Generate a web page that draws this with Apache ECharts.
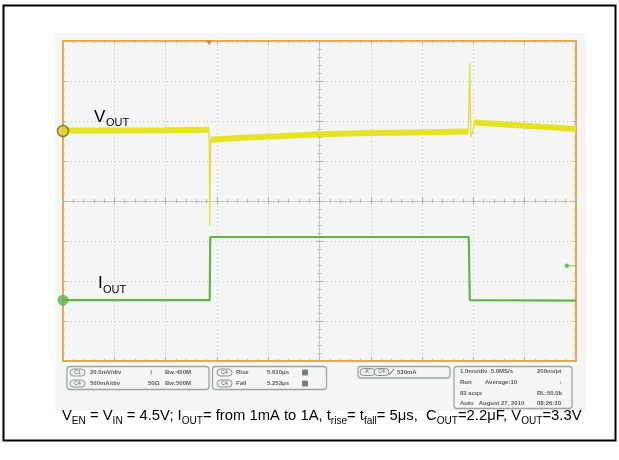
<!DOCTYPE html>
<html><head><meta charset="utf-8">
<script src="https://cdn.jsdelivr.net/npm/echarts@6/dist/echarts.min.js"></script>
<style>html,body{margin:0;padding:0;background:#fff}#c{width:619px;height:460px}</style>
</head><body><div id="c"></div>
<script>
// x: horizontal divisions (-5..5, 1.0ms/div), y: vertical divisions (-4..4)
const voutBefore = [[-5, 1.76], [-4, 1.76], [-3, 1.77], [-2.15, 1.78]];
const voutAfterStep = [[-2.12, 1.53], [-1.5, 1.58], [-0.8, 1.62], [0, 1.67], [1, 1.70], [2, 1.72], [2.9, 1.74]];
const voutAfterRecovery = [[3.02, 1.96], [4, 1.88], [5, 1.80]];
const voutSpikeDown = [[-2.15, 1.76], [-2.14, -0.62], [-2.12, 1.53]];
const voutSpikeUp = [[2.9, 1.74], [2.93, 3.45], [2.95, 1.6], [2.99, 1.75], [3.02, 1.96]];
const iout = [[-5, -2.48], [-2.14, -2.48], [-2.13, -0.9], [2.91, -0.9], [2.93, -2.48], [5, -2.49]];
const voutRef = [[-5, 1.75]];
const ioutRef = [[-5, -2.48]];
const trigLevel = [[4.82, -1.62], [5, -1.62]];
const trigPos = [[-2.15, 4]];

const statusRows1 = ['20.0mV/div', '500mA/div'];
const statusBw = ['Bw:400M', 'Bw:500M'];
const statusMeas = [['Rise', '5.610\u03bcs'], ['Fall', '5.253\u03bcs']];
const timebase = [['1.0ms/div  5.0MS/s', '200ns/pt'], ['Run        Average:10', ''], ['83 acqs', 'RL:50.0k'], ['Auto   August 27, 2010', '08:26:30']];
const caption = [['V', 0], ['EN', 1], [' = V', 0], ['IN', 1], [' = 4.5V; I', 0], ['OUT', 1], ['= from 1mA to 1A, t', 0], ['rise', 1], ['= t', 0], ['fall', 1], ['= 5\u03bcs,  C', 0], ['OUT', 1], ['=2.2\u03bcF, V', 0], ['OUT', 1], ['=3.3V', 0]];

const chart = echarts.init(document.getElementById('c'), null, {renderer: 'canvas'});
const gridC = '#b9bdbd';
function xa(pos, inside, onZero, split) {
  return {type: 'value', min: -5, max: 5, interval: 1, position: pos,
    axisLine: {show: onZero, onZero: onZero, onZeroAxisIndex: 0, lineStyle: {color: gridC, type: [1, 2], width: 1}},
    axisTick: {show: true, inside: inside, length: 3, lineStyle: {color: '#a9adad'}},
    minorTick: {show: true, splitNumber: 5, length: 2, lineStyle: {color: '#b3b6b6'}},
    axisLabel: {show: false},
    splitLine: {show: split, lineStyle: {color: gridC, type: [1, 3]}}};
}
function ya(pos, inside, onZero, split) {
  return {type: 'value', min: -4, max: 4, interval: 1, position: pos,
    axisLine: {show: onZero, onZero: onZero, onZeroAxisIndex: 0, lineStyle: {color: gridC, type: [1, 2], width: 1}},
    axisTick: {show: true, inside: inside, length: 3, lineStyle: {color: '#a9adad'}},
    minorTick: {show: true, splitNumber: 5, length: 2, lineStyle: {color: '#b3b6b6'}},
    axisLabel: {show: false},
    splitLine: {show: split, lineStyle: {color: gridC, type: [1, 3]}}};
}

const txtC = '#5a5a5a';
const FF = '"Liberation Sans", Arial, sans-serif';
const g = [];
g.push({type: 'rect', z: -10, shape: {x: 55, y: 33, width: 531, height: 378}, style: {fill: '#f4f6f6'}});
g.push({type: 'rect', z: 100, shape: {x: 3.5, y: 5.5, width: 612, height: 435}, style: {fill: 'none', stroke: '#000', lineWidth: 2}});
g.push({type: 'text', z: 50, left: 94, top: 109, style: {text: 'V', fontSize: 17, fontFamily: FF, fill: '#000'}});
g.push({type: 'text', z: 50, left: 106, top: 117.5, style: {text: 'OUT', fontSize: 11, fontFamily: FF, fill: '#000'}});
g.push({type: 'text', z: 50, left: 98, top: 274.5, style: {text: 'I', fontSize: 17, fontFamily: FF, fill: '#000'}});
g.push({type: 'text', z: 50, left: 103, top: 284, style: {text: 'OUT', fontSize: 11, fontFamily: FF, fill: '#000'}});

function box(x, y, w, h) {
  g.push({type: 'rect', shape: {x: x, y: y, width: w, height: h, r: 3}, style: {fill: '#f4f6f6', stroke: '#9ea2a2', lineWidth: 1.3}});
}
function pill(x, y, label) {
  g.push({type: 'rect', shape: {x: x, y: y - 3.5, width: 15, height: 7, r: 3.5}, style: {fill: '#eef0f0', stroke: '#8d9191', lineWidth: 1}});
  g.push({type: 'text', x: x + 7.5, y: y, style: {text: label, fontSize: 5, fill: txtC, align: 'center', verticalAlign: 'middle', fontFamily: FF}});
}
function st(x, y, s, bold) {
  g.push({type: 'text', x: x, y: y, style: {text: s, fontSize: 6, fontWeight: bold ? 'bold' : 'normal', fill: txtC, verticalAlign: 'middle', fontFamily: FF}});
}
box(67, 366.5, 142, 23);
box(212.5, 366.5, 114, 23);
box(358, 366.5, 92, 11.5);
box(454, 366.5, 118, 42);
const rowsY = [372.5, 383.5];
['C1', 'C4'].forEach((c, i) => { pill(70, rowsY[i], c); st(90, rowsY[i], statusRows1[i], true); st(165, rowsY[i], statusBw[i], true); });
st(150, rowsY[0], '\u2240', true); st(148, rowsY[1], '50\u03a9', true);
statusMeas.forEach((m, i) => {
  pill(217, rowsY[i], 'C4'); st(236, rowsY[i], m[0], true); st(267, rowsY[i], m[1], true);
  g.push({type: 'rect', shape: {x: 302, y: rowsY[i] - 3, width: 6, height: 6, r: 1}, style: {fill: '#7a7e7e'}});
});
pill(360, 372, "A'"); pill(374, 372, 'C4');
g.push({type: 'polyline', shape: {points: [[389, 375], [394, 369]]}, style: {stroke: txtC, lineWidth: 1}});
st(397, 372, '530mA', true);
const tbY = [371, 382, 393, 403.5];
timebase.forEach((r, i) => { st(460, tbY[i], r[0], true); if (r[1]) st(r[1].length > 8 ? 530 : 537, tbY[i], r[1], true); });
st(559, 382, '\u2193', true);

// caption laid out with measured widths, scaled to span the scope width
const ctx = document.createElement('canvas').getContext('2d');
function wOf(s, f) { ctx.font = f + 'px ' + FF; return ctx.measureText(s).width; }
let base = 14, subR = 0.68;
let tot = caption.reduce((a, c) => a + wOf(c[0], c[1] ? base * subR : base), 0);
const fN = base * 520 / tot, fS = fN * subR;
let cx = 62;
caption.forEach(c => {
  const f = c[1] ? fS : fN;
  g.push({type: 'text', x: cx, y: c[1] ? 426.5 : 423.5, style: {text: c[0], fontSize: f, fontFamily: FF, fill: '#000', verticalAlign: 'bottom'}});
  cx += wOf(c[0], f);
});

chart.setOption({
  animation: false,
  backgroundColor: '#ffffff',
  grid: {left: 63, top: 41, width: 513, height: 320, show: true, backgroundColor: '#f4f6f6', borderColor: '#f0a838', borderWidth: 2},
  xAxis: [xa('bottom', true, false, true), xa('top', true, false, false), xa('bottom', true, true, false), xa('bottom', false, true, false)],
  yAxis: [ya('left', true, false, true), ya('right', true, false, false), ya('left', true, true, false), ya('left', false, true, false)],
  series: [
    {type: 'line', data: iout, showSymbol: false, lineStyle: {color: '#62b446', width: 2.2}, itemStyle: {color: '#62b446'}, z: 3},
    {type: 'line', data: voutSpikeDown, showSymbol: false, lineStyle: {color: '#e0dc30', width: 1.2}, z: 4},
    {type: 'line', data: voutSpikeUp, showSymbol: false, lineStyle: {color: '#e0dc30', width: 1.2}, z: 4},
    {type: 'line', data: voutBefore, showSymbol: false, lineStyle: {color: '#e6e225', width: 6}, z: 5},
    {type: 'line', data: voutAfterStep, showSymbol: false, lineStyle: {color: '#e6e225', width: 6}, z: 5},
    {type: 'line', data: voutAfterRecovery, showSymbol: false, lineStyle: {color: '#e6e225', width: 6}, z: 5},
    {type: 'scatter', data: voutRef, symbol: 'circle', symbolSize: 11, itemStyle: {color: '#dcd228', borderColor: '#6e6424', borderWidth: 1.5}, z: 10},
    {type: 'scatter', data: ioutRef, symbol: 'circle', symbolSize: 11, itemStyle: {color: '#5fb44a'}, z: 10},
    {type: 'line', data: trigLevel, showSymbol: false, lineStyle: {color: '#7cc064', width: 1}, z: 10},
    {type: 'scatter', data: [trigLevel[0]], symbol: 'circle', symbolSize: 4.5, itemStyle: {color: '#5aae44'}, z: 11},
    {type: 'scatter', data: trigPos, symbol: 'triangle', symbolRotate: 180, symbolSize: [6, 5], symbolOffset: [0, 2], itemStyle: {color: '#ee6a3a'}, z: 10}
  ],
  graphic: g
});
</script></body></html>
